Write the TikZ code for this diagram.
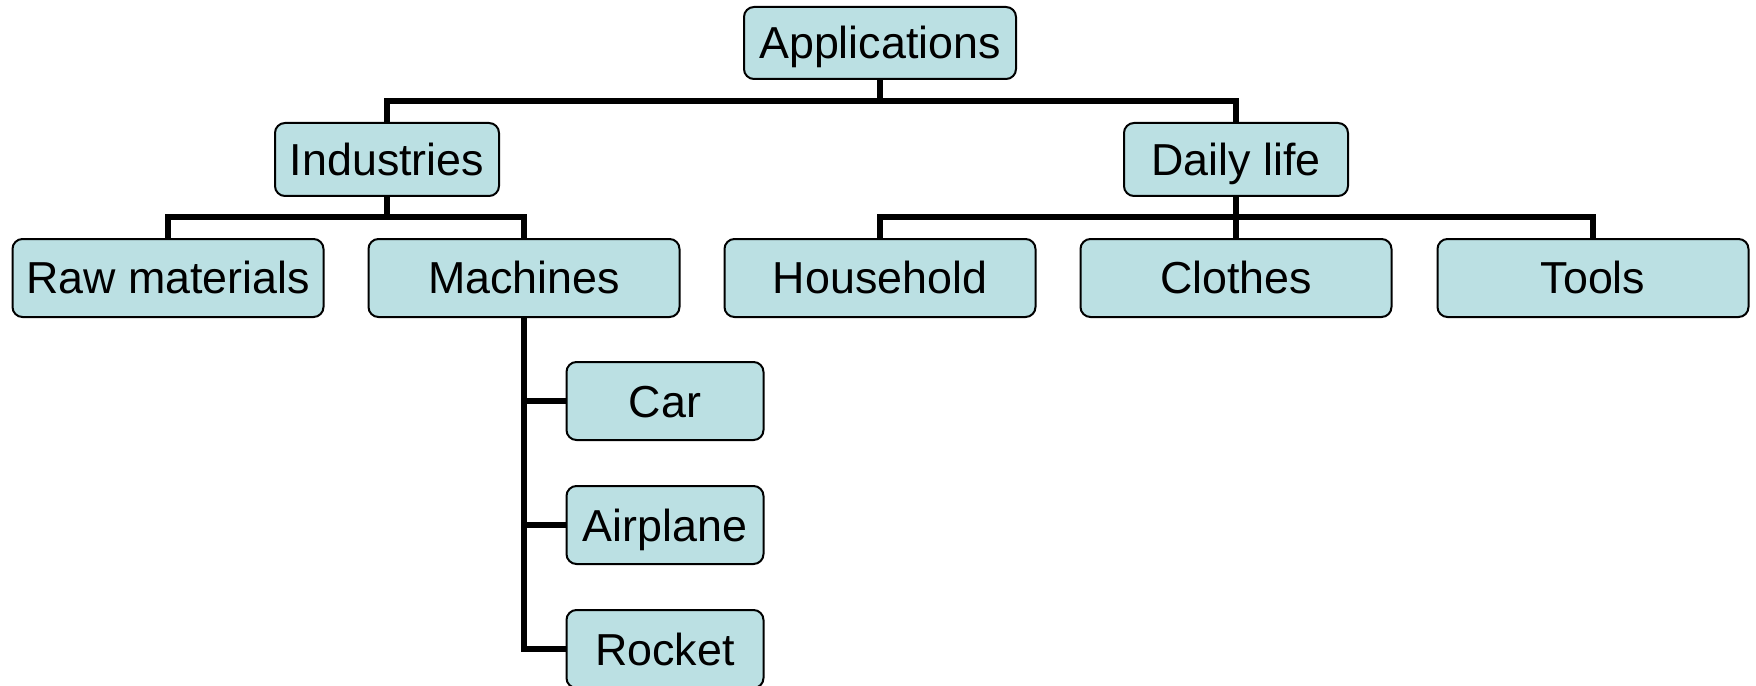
\documentclass[tikz,border=0pt]{standalone}
\usepackage{fontspec}
\setmainfont{Liberation Sans}
\definecolor{boxfill}{RGB}{187,224,227}
\newlength\px
\setlength\px{0.02cm}
\tikzset{
  item/.style={draw=black, fill=boxfill, rounded corners=10\px, line width=2\px,
    inner sep=0pt, minimum height=78\px, text height=32\px, text depth=0pt,
    font=\fontsize{25.5}{30}\selectfont},
  wide/.style={item, minimum width=311\px},
  narrow/.style={item, minimum width=197\px},
  conn/.style={line width=6\px, line join=miter}
}
\begin{document}
\begin{tikzpicture}[x=\px, y=-\px]
  \useasboundingbox (0,0) rectangle (1756,686);

  % top levels
  \node [item, minimum width=272\px, minimum height=72\px] (app) at (880,43) {Applications};
  \node [item, minimum width=224\px, minimum height=73\px] (ind) at (387,159.5) {Industries};
  \node [item, minimum width=224\px, minimum height=73\px] (daily) at (1236,159.5) {Daily life};

  \node [wide] (raw) at (168,278) {Raw materials};
  \node [wide] (mach) at (524,278) {Machines};
  \node [wide] (house) at (880,278) {Household};
  \node [wide] (clothes) at (1236,278) {Clothes};
  \node [wide] (tools) at (1593,278) {Tools};

  % machines
  \node [narrow] (car) at (665,401) {Car};
  \node [narrow] (air) at (665,525) {Airplane};
  \node [narrow] (rocket) at (665,649) {Rocket};

  \coordinate (bar1) at (880,101);
  \coordinate (bar2) at (387,217);
  \coordinate (bar3) at (1236,217);

  \draw [conn] (app.south) -- (bar1);
  \draw [conn] (ind.north) -- (ind.north |- bar1) -- (daily.north |- bar1) -- (daily.north);
  \draw [conn] (ind.south) -- (bar2);
  \draw [conn] (raw.north) -- (raw.north |- bar2) -- (mach.north |- bar2) -- (mach.north);
  \draw [conn] (daily.south) -- (clothes.north);
  \draw [conn] (house.north) -- (house.north |- bar3) -- (tools.north |- bar3) -- (tools.north);
  \draw [conn] (mach.south) |- (rocket.west);
  \draw [conn] (mach.south |- car.west) -- (car.west);
  \draw [conn] (mach.south |- air.west) -- (air.west);
\end{tikzpicture}
\end{document}
